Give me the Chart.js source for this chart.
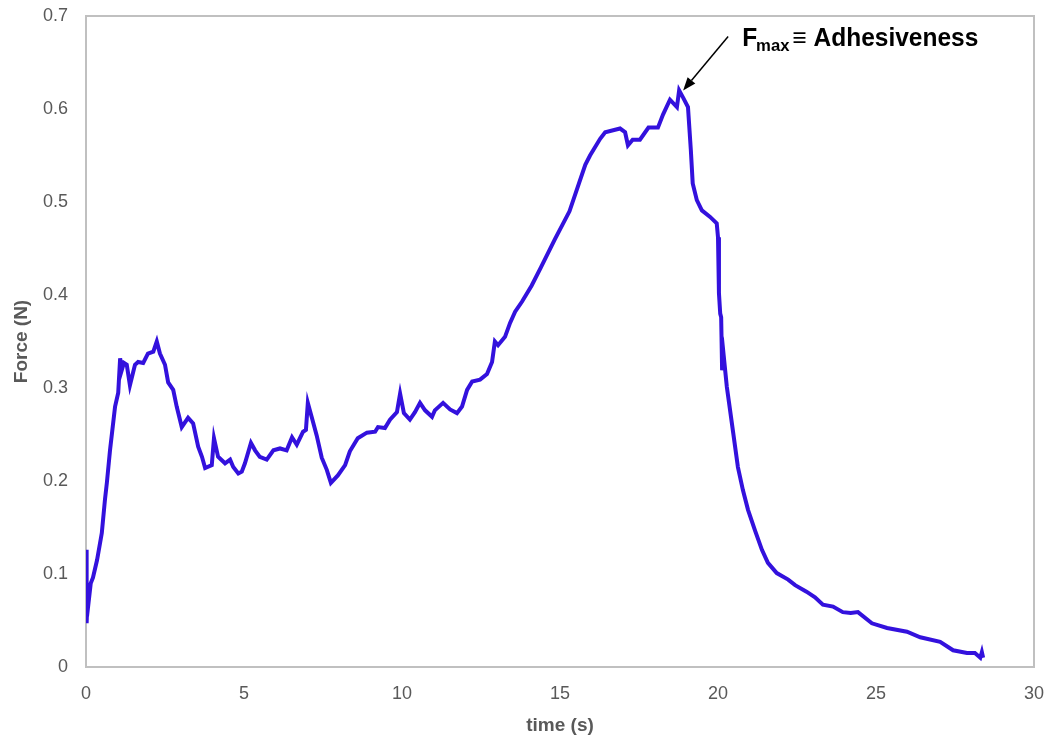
<!DOCTYPE html>
<html>
<head>
<meta charset="utf-8">
<script src="https://cdn.jsdelivr.net/npm/chart.js@4/dist/chart.umd.min.js"></script>
<style>
html,body{margin:0;padding:0;background:#fff;}
#wrap{width:1051px;height:738px;position:relative;}
</style>
</head>
<body>
<div id="wrap"><canvas id="c" width="1051" height="738"></canvas></div>
<script>
const timeS = [0, 0.01, 0.03, 0.06, 0.1, 0.15, 0.22, 0.35, 0.5, 0.6, 0.66, 0.76, 0.92, 1.02, 1.08, 1.13, 1.2, 1.29, 1.39, 1.55, 1.65, 1.81, 1.96, 2.13, 2.24, 2.34, 2.5, 2.6, 2.76, 2.87, 3.03, 3.23, 3.39, 3.55, 3.67, 3.77, 3.98, 4.05, 4.18, 4.4, 4.56, 4.66, 4.82, 4.93, 5.03, 5.22, 5.35, 5.5, 5.72, 5.93, 6.14, 6.35, 6.52, 6.67, 6.87, 6.96, 7.02, 7.14, 7.3, 7.46, 7.62, 7.75, 7.97, 8.2, 8.35, 8.6, 8.89, 9.15, 9.24, 9.46, 9.62, 9.84, 9.94, 10.06, 10.25, 10.41, 10.57, 10.73, 10.95, 11.04, 11.3, 11.52, 11.74, 11.9, 12.06, 12.22, 12.47, 12.69, 12.85, 12.94, 13.04, 13.26, 13.42, 13.58, 13.8, 14.1, 14.4, 14.84, 15.3, 15.6, 15.8, 15.95, 16.27, 16.43, 16.9, 17.06, 17.15, 17.3, 17.53, 17.8, 18.1, 18.26, 18.48, 18.7, 18.77, 18.9, 19.05, 19.14, 19.2, 19.33, 19.49, 19.75, 19.96, 20.0, 20.03, 20.07, 20.1, 20.13, 20.18, 20.28, 20.35, 20.48, 20.63, 20.79, 20.95, 21.17, 21.39, 21.58, 21.86, 22.22, 22.44, 22.8, 23.07, 23.32, 23.64, 23.95, 24.2, 24.43, 24.87, 25.35, 25.98, 26.4, 27.03, 27.44, 27.88, 28.13, 28.3, 28.35, 28.39];
const forceN = [0.07, 0.126, 0.047, 0.09, 0.075, 0.09, 0.096, 0.115, 0.144, 0.18, 0.198, 0.233, 0.28, 0.295, 0.332, 0.319, 0.327, 0.325, 0.303, 0.325, 0.328, 0.327, 0.337, 0.339, 0.35, 0.337, 0.325, 0.306, 0.298, 0.28, 0.258, 0.268, 0.262, 0.237, 0.226, 0.214, 0.217, 0.246, 0.226, 0.219, 0.223, 0.215, 0.208, 0.21, 0.219, 0.241, 0.233, 0.226, 0.223, 0.233, 0.235, 0.233, 0.247, 0.239, 0.253, 0.255, 0.284, 0.269, 0.249, 0.225, 0.212, 0.198, 0.206, 0.217, 0.232, 0.246, 0.252, 0.253, 0.258, 0.257, 0.266, 0.274, 0.294, 0.273, 0.266, 0.274, 0.284, 0.276, 0.269, 0.276, 0.284, 0.277, 0.273, 0.28, 0.298, 0.307, 0.309, 0.315, 0.328, 0.35, 0.346, 0.355, 0.37, 0.382, 0.393, 0.41, 0.43, 0.46, 0.49, 0.52, 0.54, 0.55, 0.568, 0.575, 0.579, 0.575, 0.561, 0.567, 0.567, 0.58, 0.58, 0.594, 0.61, 0.602, 0.62, 0.612, 0.602, 0.556, 0.52, 0.502, 0.491, 0.484, 0.477, 0.462, 0.402, 0.38, 0.376, 0.319, 0.335, 0.301, 0.284, 0.252, 0.215, 0.19, 0.169, 0.147, 0.126, 0.112, 0.101, 0.094, 0.088, 0.081, 0.075, 0.067, 0.065, 0.059, 0.058, 0.059, 0.047, 0.042, 0.038, 0.032, 0.027, 0.018, 0.015, 0.015, 0.01, 0.016, 0.01];
const xTicks = [0, 5, 10, 15, 20, 25, 30];
const yTicks = [0, 0.1, 0.2, 0.3, 0.4, 0.5, 0.6, 0.7];
const xTitle = 'time (s)';
const yTitle = 'Force (N)';
const annotMain = 'F';
const annotSub = 'max';
const annotRest = '\u2261 Adhesiveness';

const points = timeS.map((t, i) => ({x: t, y: forceN[i]}));

const boxPlugin = {
  id: 'box',
  beforeDatasetsDraw(chart) {
    const {ctx, chartArea: a} = chart;
    ctx.save();
    ctx.strokeStyle = '#C0C0C0';
    ctx.lineWidth = 2;
    ctx.strokeRect(a.left, a.top, a.right - a.left, a.bottom - a.top);
    ctx.restore();
  }
};

const annotPlugin = {
  id: 'annot',
  afterDatasetsDraw(chart) {
    const {ctx, scales} = chart;
    let im = 0;
    forceN.forEach((v, i) => { if (v > forceN[im]) im = i; });
    const px = scales.x.getPixelForValue(timeS[im]);
    const py = scales.y.getPixelForValue(forceN[im]);
    const tipX = px + 4, tipY = py;
    const sX = px + 49, sY = py - 54;
    ctx.save();
    ctx.strokeStyle = '#000';
    ctx.fillStyle = '#000';
    ctx.lineWidth = 1.5;
    const ang = Math.atan2(tipY - sY, tipX - sX);
    const hl = 13, hw = 5;
    const bx = tipX - hl * Math.cos(ang), by = tipY - hl * Math.sin(ang);
    ctx.beginPath();
    ctx.moveTo(sX, sY);
    ctx.lineTo(bx, by);
    ctx.stroke();
    ctx.beginPath();
    ctx.moveTo(tipX, tipY);
    ctx.lineTo(bx + hw * Math.sin(ang), by - hw * Math.cos(ang));
    ctx.lineTo(bx - hw * Math.sin(ang), by + hw * Math.cos(ang));
    ctx.closePath();
    ctx.fill();
    const tx = px + 63, ty = py - 44;
    ctx.textBaseline = 'alphabetic';
    ctx.textAlign = 'left';
    ctx.font = 'bold 25px "Liberation Sans", Arial, sans-serif';
    ctx.save();
    ctx.translate(tx, ty);
    ctx.scale(0.98, 1);
    ctx.fillText(annotMain, 0, 0);
    let w = ctx.measureText(annotMain).width;
    ctx.font = 'bold 17px "Liberation Sans", Arial, sans-serif';
    ctx.fillText(annotSub, w - 1, 5);
    w += ctx.measureText(annotSub).width + 2;
    ctx.font = 'bold 25px "Liberation Sans", Arial, sans-serif';
    ctx.fillText(annotRest, w, 0);
    ctx.restore();
    ctx.restore();
  }
};

new Chart(document.getElementById('c'), {
  type: 'line',
  data: {
    datasets: [{
      data: points,
      borderColor: '#3311DD',
      borderWidth: 4,
      pointRadius: 0,
      tension: 0,
      fill: false
    }]
  },
  options: {
    responsive: false,
    animation: false,
    parsing: true,
    layout: {padding: {left: 0, right: 17, top: 16, bottom: 0}},
    plugins: {legend: {display: false}, tooltip: {enabled: false}},
    scales: {
      x: {
        type: 'linear',
        min: 0, max: 30,
        afterFit(s) { s.height = 71; s.paddingLeft = 0; s.paddingRight = 0; },
        afterBuildTicks(s) { s.ticks = xTicks.map(v => ({value: v})); },
        grid: {display: false, drawTicks: false},
        border: {display: false},
        ticks: {color: '#595959', font: {size: 18, family: '"Liberation Sans", Arial, sans-serif'}, padding: 16, maxRotation: 0},
        title: {display: true, text: xTitle, color: '#595959', font: {size: 19, weight: 'bold', family: '"Liberation Sans", Arial, sans-serif'}, padding: {top: 0, bottom: 1}}
      },
      y: {
        type: 'linear',
        min: 0, max: 0.7,
        afterFit(s) { s.width = 86; s.paddingTop = 0; s.paddingBottom = 0; },
        afterBuildTicks(s) { s.ticks = yTicks.map(v => ({value: v})); },
        grid: {display: false, drawTicks: false},
        border: {display: false},
        ticks: {color: '#595959', font: {size: 18, family: '"Liberation Sans", Arial, sans-serif'}, padding: 18,
          callback: v => String(Math.round(v * 10) / 10)},
        title: {display: true, text: yTitle, color: '#595959', font: {size: 19, weight: 'bold', family: '"Liberation Sans", Arial, sans-serif'}, padding: {top: 10, bottom: 0}}
      }
    }
  },
  plugins: [boxPlugin, annotPlugin]
});
</script>
</body>
</html>
